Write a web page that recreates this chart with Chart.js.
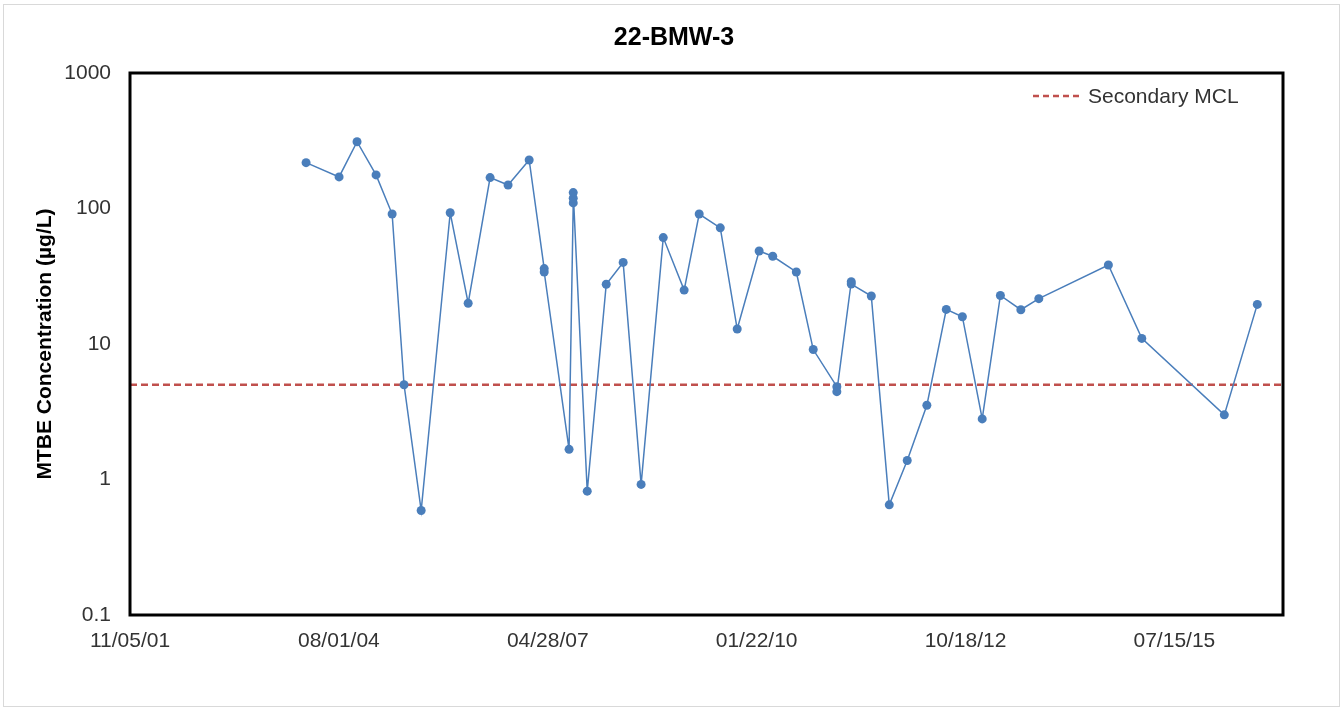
<!DOCTYPE html>
<html>
<head>
<meta charset="utf-8">
<script src="https://cdn.jsdelivr.net/npm/chart.js@4.4.0/dist/chart.umd.min.js"></script>
<style>
  html, body { margin: 0; padding: 0; background: #fff; }
  #wrap { width: 1343px; height: 711px; position: relative; }
</style>
</head>
<body>
<div id="wrap"><canvas id="chart" width="1343" height="711"></canvas></div>
<script>
// sample dates and MTBE results (ug/L)
const sampleDates = [
  '2004-02-26', '2004-08-02', '2004-10-27', '2005-01-26', '2005-04-13',
  '2005-06-09', '2005-08-30', '2006-01-16', '2006-04-12', '2006-07-26',
  '2006-10-20', '2007-01-29', '2007-04-11', '2007-04-11', '2007-08-08',
  '2007-08-28', '2007-08-28', '2007-08-28', '2007-11-03', '2008-02-02',
  '2008-04-23', '2008-07-18', '2008-11-01', '2009-02-09', '2009-04-22',
  '2009-08-01', '2009-10-21', '2010-02-03', '2010-04-09', '2010-07-31',
  '2010-10-20', '2011-02-10', '2011-02-10', '2011-04-20', '2011-04-20',
  '2011-07-25', '2011-10-19', '2012-01-13', '2012-04-16', '2012-07-18',
  '2012-10-03', '2013-01-06', '2013-04-03', '2013-07-10', '2013-10-04',
  '2014-09-02', '2015-02-09', '2016-03-10', '2016-08-15'
];
const mtbeValues = [
  218, 171, 311, 177, 91,
  5, 0.59, 93, 20, 169,
  149, 228, 36, 34, 1.67,
  110, 119, 131, 0.82, 27.6,
  40, 0.92, 61, 25, 91,
  72, 12.9, 48.6, 44.4, 34,
  9.1, 4.84, 4.45, 28.8, 27.7,
  22.6, 0.65, 1.38, 3.53, 18,
  15.9, 2.8, 22.8, 17.9, 21.6,
  38.3, 11, 3.0, 19.6
];
const mclValue = 5;
const yTicks = [0.1, 1, 10, 100, 1000];
const xStartDate = '2001-11-05';
const xTickStepDays = 1000;
const xTickCount = 6;
const xSpanDays = 5520;

const DAY = 86400000;
const xMin = Date.parse(xStartDate);
const xMax = xMin + xSpanDays * DAY;
const xTicks = [];
for (let k = 0; k < xTickCount; k++) xTicks.push(xMin + k * xTickStepDays * DAY);

const FONT = "'Liberation Sans', Arial, sans-serif";
const TEXT = '#333333';

function fmtDate(ms) {
  const d = new Date(ms);
  const p = n => String(n).padStart(2, '0');
  return p(d.getUTCMonth() + 1) + '/' + p(d.getUTCDate()) + '/' + p(d.getUTCFullYear() % 100);
}

const decor = {
  id: 'decor',
  beforeDraw(chart) {
    const ctx = chart.ctx;
    ctx.save();
    ctx.strokeStyle = '#d9d9d9';
    ctx.lineWidth = 1;
    ctx.strokeRect(3.5, 4.5, 1336, 702);
    ctx.restore();
  },
  afterDraw(chart) {
    const ctx = chart.ctx;
    const a = chart.chartArea;
    ctx.save();
    // plot frame
    ctx.strokeStyle = '#000';
    ctx.lineWidth = 3;
    ctx.strokeRect(a.left, a.top, a.right - a.left, a.bottom - a.top);
    // title
    ctx.fillStyle = '#000';
    ctx.font = 'bold 25px ' + FONT;
    ctx.textAlign = 'center';
    ctx.textBaseline = 'middle';
    ctx.fillText('22-BMW-3', 674, 38);
    // legend
    ctx.strokeStyle = '#c0504d';
    ctx.lineWidth = 2.5;
    ctx.setLineDash([6, 4]);
    ctx.beginPath();
    ctx.moveTo(1033, 96);
    ctx.lineTo(1083, 96);
    ctx.stroke();
    ctx.setLineDash([]);
    ctx.fillStyle = TEXT;
    ctx.font = '21px ' + FONT;
    ctx.textAlign = 'left';
    ctx.fillText('Secondary MCL', 1088, 97);
    ctx.restore();
  }
};

new Chart(document.getElementById('chart'), {
  type: 'line',
  data: {
    datasets: [
      {
        label: 'MTBE',
        data: sampleDates.map((d, i) => ({ x: Date.parse(d), y: mtbeValues[i] })),
        borderColor: '#4a7ebb',
        backgroundColor: '#4a7ebb',
        borderWidth: 1.5,
        pointRadius: 4.5,
        pointBorderWidth: 0,
        tension: 0
      },
      {
        label: 'Secondary MCL',
        data: [{ x: xMin, y: mclValue }, { x: xMax, y: mclValue }],
        borderColor: '#c0504d',
        borderWidth: 2.5,
        borderDash: [7, 4],
        pointRadius: 0,
        tension: 0
      }
    ]
  },
  options: {
    responsive: false,
    animation: false,
    layout: { padding: { top: 73, right: 60, left: 0, bottom: 0 } },
    plugins: {
      legend: { display: false },
      tooltip: { enabled: false }
    },
    scales: {
      x: {
        type: 'linear',
        min: xMin,
        max: xMax,
        grid: { display: false, drawTicks: false },
        border: { display: false },
        afterBuildTicks: s => { s.ticks = xTicks.map(v => ({ value: v })); },
        afterFit: s => { s.height = 96; },
        ticks: {
          autoSkip: false,
          maxRotation: 0,
          padding: 14,
          color: TEXT,
          font: { family: FONT, size: 21 },
          callback: v => fmtDate(v)
        }
      },
      y: {
        type: 'logarithmic',
        min: 0.1,
        max: 1000,
        grid: { display: false, drawTicks: false },
        border: { display: false },
        afterBuildTicks: s => { s.ticks = yTicks.map(v => ({ value: v })); },
        afterFit: s => { s.width = 130; },
        ticks: {
          padding: 19,
          color: TEXT,
          font: { family: FONT, size: 21 },
          callback: v => String(v)
        },
        title: {
          display: true,
          text: 'MTBE Concentration (µg/L)',
          color: '#000',
          padding: { top: 33, bottom: 0 },
          font: { family: FONT, size: 21, weight: 'bold' }
        }
      }
    }
  },
  plugins: [decor]
});
</script>
</body>
</html>
